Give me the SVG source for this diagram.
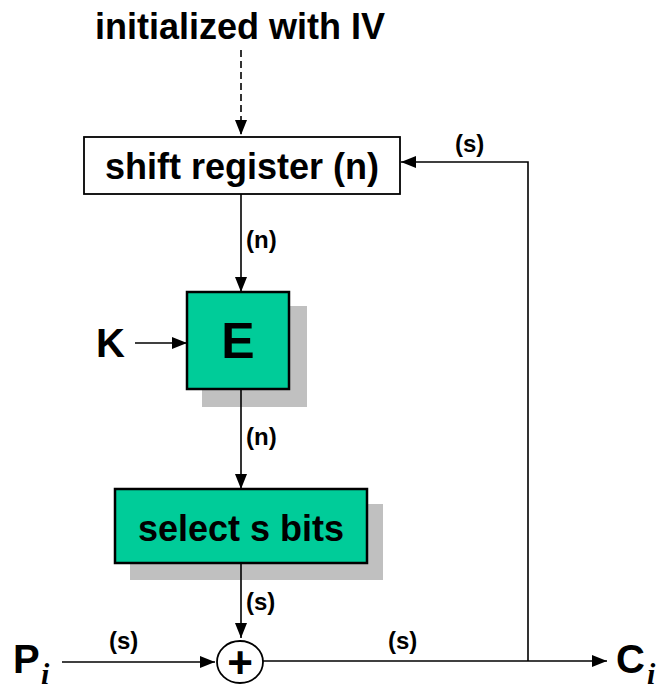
<svg xmlns="http://www.w3.org/2000/svg" width="658" height="690" viewBox="0 0 658 690">
<style>
text{font-family:"Liberation Sans",Arial,sans-serif;font-weight:bold;fill:#000}
.big{font-size:36px}
.lbl{font-size:24px}
.sub{font-family:"Liberation Serif","Times New Roman",serif;font-style:italic;font-size:30px}
.ln{stroke:#000;stroke-width:1.6;fill:none}
.box{fill:#00CC99;stroke:#000;stroke-width:2.5}
.shadow{fill:#C0C0C0}
</style>
<defs>
<marker id="ah" viewBox="0 0 15 12" refX="15" refY="6" markerWidth="15" markerHeight="12" markerUnits="userSpaceOnUse" orient="auto">
<path d="M0,0 L15,6 L0,12 Z" fill="#000"/>
</marker>
</defs>
<g id="iv-label"><text class="big" x="240" y="39" text-anchor="middle">initialized with IV</text></g>
<g id="shift-register">
<rect x="84" y="137" width="316" height="57" fill="#fff" stroke="#000" stroke-width="1.8"/>
<text class="big" x="242" y="179" text-anchor="middle" font-size="37">shift register (n)</text>
</g>
<g id="E">
<rect class="shadow" x="202" y="306" width="105" height="101"/>
<rect class="box" x="187" y="292" width="102" height="97"/>
<text x="238" y="358" text-anchor="middle" font-size="50">E</text>
</g>
<g id="K"><text x="96" y="357" font-size="40">K</text></g>
<g id="select">
<rect class="shadow" x="130" y="504" width="253" height="76"/>
<rect class="box" x="115" y="489" width="252" height="74"/>
<text class="big" x="241" y="541" text-anchor="middle">select s bits</text>
</g>
<g id="xor">
<ellipse cx="240" cy="662" rx="23" ry="21" fill="#fff" stroke="#000" stroke-width="1.8"/>
<text x="240" y="678" font-size="44" text-anchor="middle">+</text>
</g>
<g id="P"><text x="13" y="673" font-size="40">P</text><text class="sub" x="41" y="684">i</text></g>
<g id="C"><text x="616" y="673" font-size="40">C</text><text class="sub" x="647" y="684">i</text></g>
<g id="connectors">
<line class="ln" x1="241" y1="50" x2="241" y2="135" stroke-dasharray="7,4" marker-end="url(#ah)"/>
<line class="ln" x1="241" y1="194" x2="241" y2="292" marker-end="url(#ah)"/>
<line class="ln" x1="135" y1="343" x2="187" y2="343" marker-end="url(#ah)"/>
<line class="ln" x1="241" y1="389" x2="241" y2="489" marker-end="url(#ah)"/>
<line class="ln" x1="241" y1="563" x2="241" y2="638" marker-end="url(#ah)"/>
<line class="ln" x1="62" y1="662" x2="215" y2="662" marker-end="url(#ah)"/>
<line class="ln" x1="263" y1="661" x2="607" y2="661" marker-end="url(#ah)"/>
<polyline class="ln" points="528,661 528,162 401,162" marker-end="url(#ah)"/>
</g>
<g id="labels">
<text class="lbl" x="246" y="248">(n)</text>
<text class="lbl" x="246" y="445">(n)</text>
<text class="lbl" x="246" y="610">(s)</text>
<text class="lbl" x="109" y="649">(s)</text>
<text class="lbl" x="388" y="649">(s)</text>
<text class="lbl" x="455" y="152">(s)</text>
</g>
</svg>
